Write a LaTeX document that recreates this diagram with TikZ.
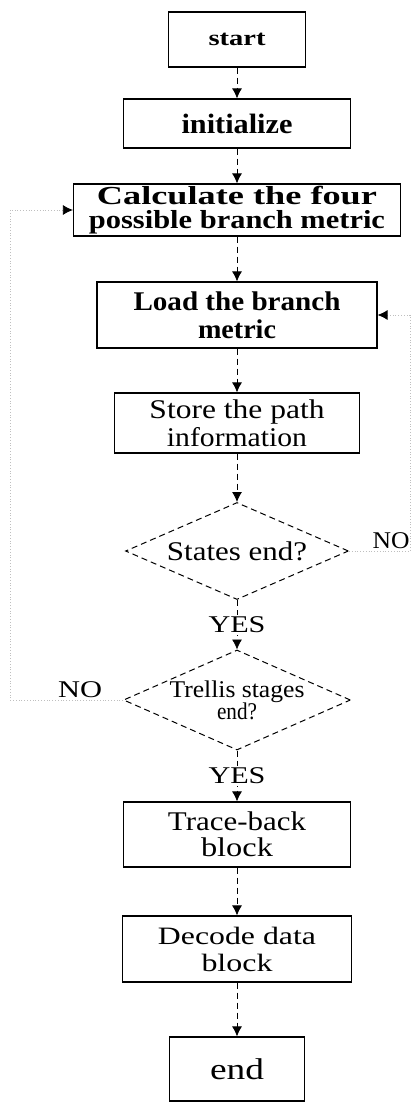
\documentclass[tikz,border=0pt]{standalone}
\usepackage{fontspec}
\setmainfont{Liberation Serif}
\usepackage{graphicx}
\usetikzlibrary{arrows.meta,shapes.geometric,positioning}
\tikzset{
	>={Latex[length=5pt,width=5pt]},
	block/.style = {
			draw, rectangle,
			line width = 0.6pt,
			align      = center,
			inner sep  = 0.5pt,
		},
	decision/.style = {
			draw, diamond, densely dashed,
			line width = 0.5pt,
			align      = center,
			inner sep  = 0pt,
			aspect     = 2.3,
		},
	flow/.style = {->, densely dashed, line width=0.4pt},
	loopback/.style = {-{Latex[length=5pt,width=5pt,color=black]}, densely dotted, line width=0.4pt, draw=black!25},
	answer/.style = {font=\fontsize{12}{13}\selectfont, inner sep=1pt},
}
\newcommand{\fitline}[2]{\resizebox{#1pt}{\height}{#2}}

\begin{document}
\begin{tikzpicture}[x=0.5pt, y=-0.5pt]
		\useasboundingbox (0,0) rectangle (417,1102);

		\node[block, minimum width=68.5pt, minimum height=27.5pt, font=\fontsize{11}{12}\selectfont\bfseries] at (237,39.5) (start) {\fitline{28.5}{start}};
		\node[block, minimum width=113.5pt, minimum height=24.5pt, font=\fontsize{14}{14}\selectfont\bfseries] at (237,123.5) (init) {\fitline{55.5}{initialize}};
		\node[block, minimum width=163.5pt, minimum height=26pt, font=\fontsize{13}{12}\selectfont\bfseries] at (237,210) (calc) {\fitline{140}{Calculate the four}\\ \fitline{148}{possible branch metric}};
		\node[block, minimum width=140pt, minimum height=33pt, font=\fontsize{13.5}{14}\selectfont\bfseries] at (237,315) (load) {\fitline{103.5}{Load the branch}\\ \fitline{39}{metric}};
		\node[block, minimum width=122.5pt, minimum height=30pt, font=\fontsize{13.5}{14}\selectfont] at (237,423) (store) {\fitline{87.5}{Store the path}\\ \fitline{70}{information}};

		\node[decision, minimum width=111.5pt, minimum height=48.5pt, font=\fontsize{13.5}{14}\selectfont] at (237,551) (states) {\fitline{70}{States end?}};
		\node[decision, minimum width=113.5pt, minimum height=50pt, font=\fontsize{12}{11}\selectfont] at (237,700) (trellis) {\fitline{67.5}{Trellis stages}\\ \fitline{20}{end?}};

		\node[block, minimum width=113.5pt, minimum height=32.5pt, font=\fontsize{13.5}{13}\selectfont] at (237,834.5) (trace) {\fitline{69}{Trace-back}\\ \fitline{36}{block}};
		\node[block, minimum width=114.5pt, minimum height=33pt, font=\fontsize{12.5}{13.5}\selectfont] at (237,949) (decode) {\fitline{79}{Decode data}\\ \fitline{35.5}{block}};
		\node[block, minimum width=67.5pt, minimum height=32pt, font=\fontsize{15}{15}\selectfont] at (237,1069) (end) {\fitline{27}{end}};

		\coordinate (lowleft) at (10,700);
		\coordinate (midright) at (410,551);

		\draw[flow] (start) -- (init);
		\draw[flow] (init) -- (calc);
		\draw[flow] (calc) -- (load);
		\draw[flow] (load) -- (store);
		\draw[flow] (store) -- (states);
		\draw[flow] (states) -- node[answer, fill=white] {\fitline{28.5}{YES}} (trellis);
		\draw[flow] (trellis) -- node[answer, fill=white] {\fitline{28.5}{YES}} (trace);
		\draw[flow] (trace) -- (decode);
		\draw[flow] (decode) -- (end);

		\draw[loopback] (states.east) -- node[answer, above, pos=0.69] {\fitline{18.5}{NO}} (midright) |- (load.east);
		\draw[loopback] (trellis.west) -- node[answer, above, pos=0.38] {\fitline{22}{NO}} (lowleft) |- (calc.west);
	\end{tikzpicture}
\end{document}
